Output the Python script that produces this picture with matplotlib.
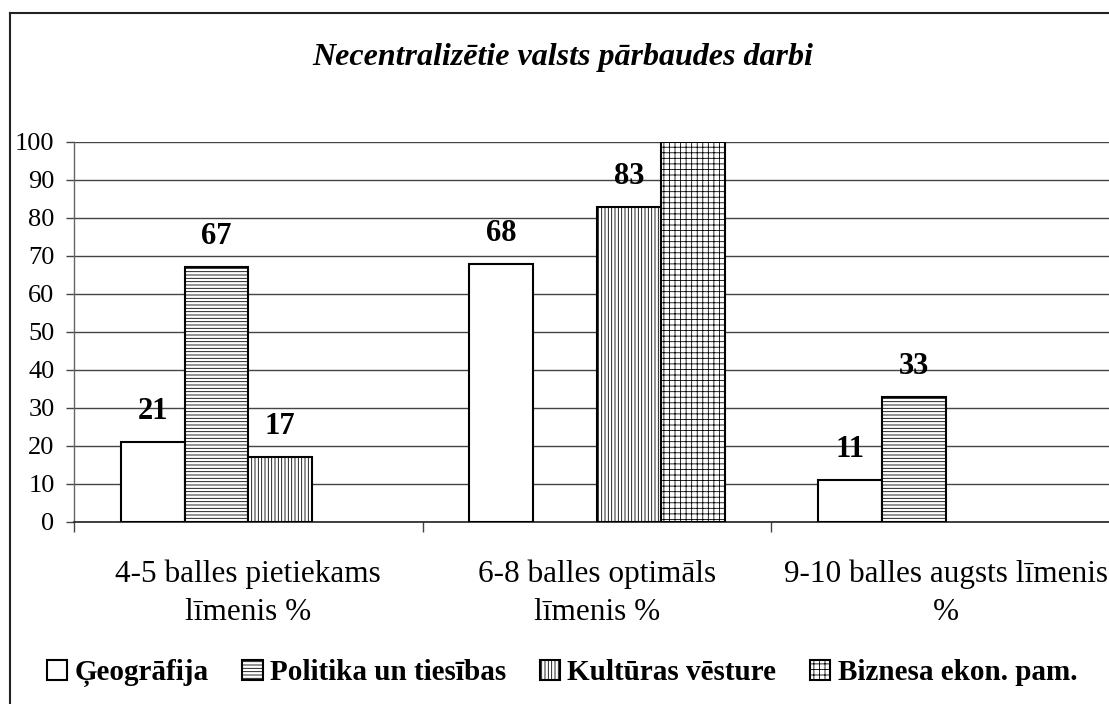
import numpy as np
import matplotlib
matplotlib.use("Agg")
import matplotlib.pyplot as plt
from matplotlib.lines import Line2D

plt.rcParams['font.family'] = ['Liberation Serif', 'DejaVu Serif']
plt.rcParams['hatch.linewidth'] = 0.6

title = "Necentralizētie valsts pārbaudes darbi"
categories = ["4-5 balles pietiekams\nlīmenis %",
              "6-8 balles optimāls\nlīmenis %",
              "9-10 balles augsts līmenis\n%"]
series_names = ["Ģeogrāfija", "Politika un tiesības", "Kultūras vēsture", "Biznesa ekon. pam."]
geografija = [21, 68, 11]
politika = [67, np.nan, 33]
kulturas = [17, 83, np.nan]
biznesa = [np.nan, 100, np.nan]
yticks = list(range(0, 101, 10))

series = [geografija, politika, kulturas, biznesa]
hatches = ['', '-----', '|||||', '+++']

W, H = 1109, 704
fig = plt.figure(figsize=(W / 100, H / 100), dpi=100)
fig.patch.set_facecolor('white')

# outer chart frame (left and top edges visible)
fig.add_artist(Line2D([10 / W, 10 / W], [0, 1 - 13 / H], transform=fig.transFigure,
                      color='#222222', lw=1.5))
fig.add_artist(Line2D([10 / W, 1.0], [1 - 13 / H, 1 - 13 / H], transform=fig.transFigure,
                      color='#222222', lw=1.5))

ax = fig.add_axes([74 / W, 182 / H, 1046 / W, 380 / H])

x = np.arange(len(categories))
bw = 0.183
offsets = (np.arange(4) - 1.5) * bw
for s, vals, h, off in zip(series_names, series, hatches, offsets):
    v = np.array(vals, dtype=float)
    m = ~np.isnan(v)
    ax.bar((x + off)[m], v[m], width=bw, facecolor='white',
           edgecolor='black', hatch=h, linewidth=1.5, label=s, zorder=3)
    for xi, vi in zip((x + off)[m], v[m]):
        ax.annotate(f"{vi:.0f}", (xi, vi), xytext=(0, 22), textcoords='offset points',
                    ha='center', va='center', fontsize=22, fontweight='bold',
                    annotation_clip=True, clip_on=True, zorder=4)

ax.set_xlim(-0.5, 2.5)
ax.set_ylim(0, 100)
ax.set_yticks(yticks)
ax.tick_params(axis='y', labelsize=19, length=6, width=1, color='#444444', pad=8)
ax.yaxis.grid(True, color='#444444', lw=1, zorder=0)

ax.set_xticks([-0.5, 0.5, 1.5, 2.5])
ax.set_xticklabels([])
ax.tick_params(axis='x', which='major', length=7, width=1, color='#444444')
ax.set_xticks(x, minor=True)
ax.set_xticklabels(categories, minor=True, fontsize=22.5, linespacing=1.4)
ax.tick_params(axis='x', which='minor', length=0, pad=27)

for sp in ['top', 'right']:
    ax.spines[sp].set_visible(False)
ax.spines['left'].set_color('#666666')
ax.spines['left'].set_linewidth(1)
ax.spines['bottom'].set_color('#222222')
ax.spines['bottom'].set_linewidth(1.2)

fig.text(563 / W, 1 - 57 / H, title, ha='center', va='center', fontsize=23,
         fontweight='bold', fontstyle='italic')

leg = fig.legend(loc='center', bbox_to_anchor=(562 / W, 1 - 673 / H), ncol=4,
                 frameon=False, prop={'weight': 'bold', 'size': 21},
                 handlelength=0.7, handleheight=0.7, handletextpad=0.25,
                 columnspacing=1.15)

fig.savefig("out.png", dpi=100)
